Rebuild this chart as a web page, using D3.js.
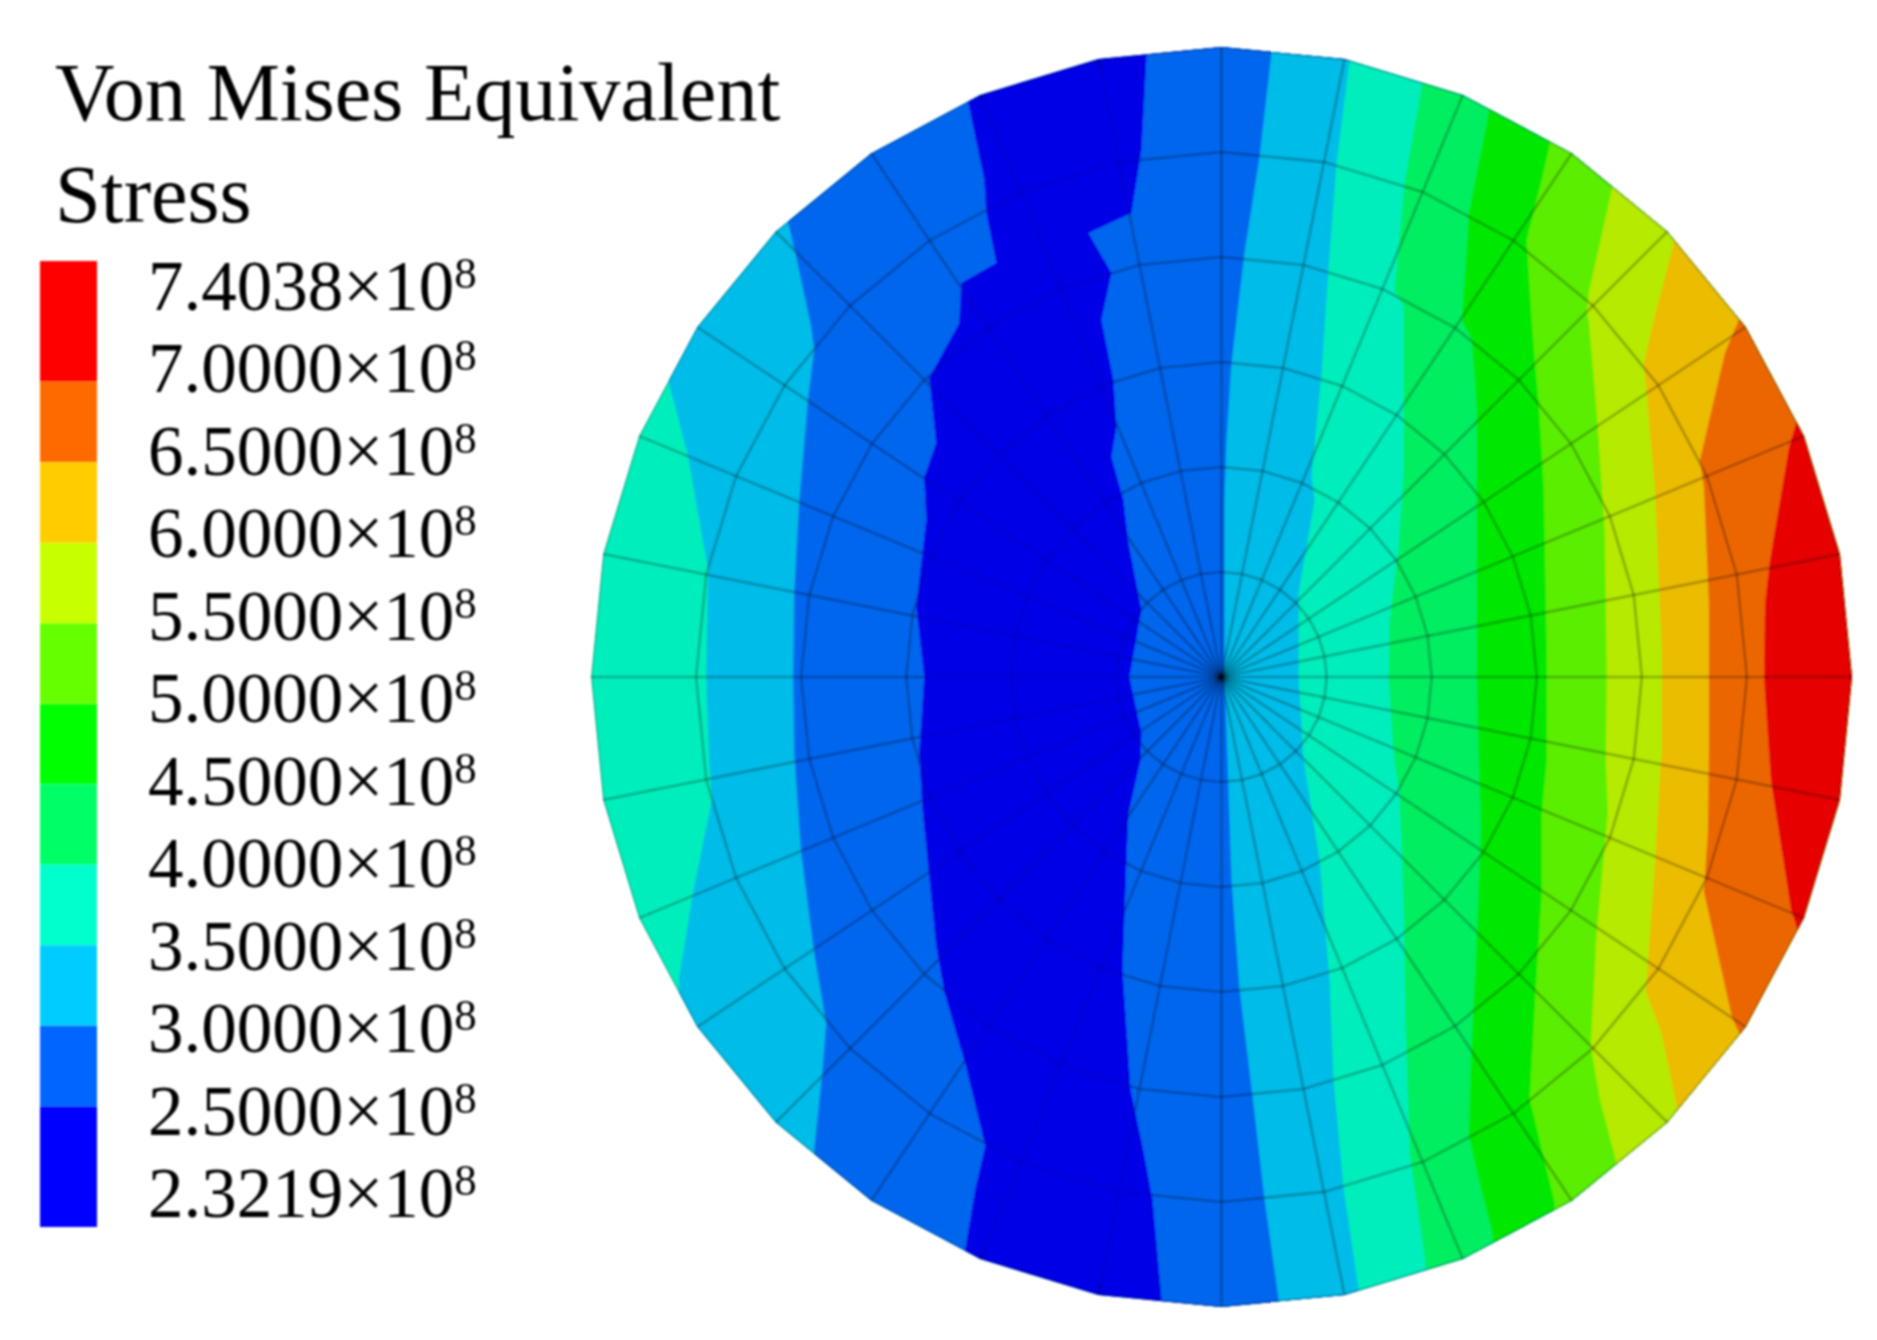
<!DOCTYPE html>
<html>
<head>
<meta charset="utf-8">
<script src="https://cdn.jsdelivr.net/npm/d3@7"></script>
<style>
  html, body { margin: 0; padding: 0; background: #fff; }
  svg { display: block; }
  text { font-family: "Liberation Serif", serif; fill: #000; }
</style>
</head>
<body>
<div id="chart"></div>
<script>
'use strict';

var titleLines = ['Von Mises Equivalent', 'Stress']

// Legend, top to bottom
var legendMantissas = ['7.4038', '7.0000', '6.5000', '6.0000', '5.5000', '5.0000', '4.5000', '4.0000', '3.5000', '3.0000', '2.5000', '2.3219']
var legendExponent = '8'
var legendColors = ['#ff0000', '#ff6a00', '#ffcc00', '#c8ff00', '#66ff00', '#00ff00', '#00ff66', '#00ffcc', '#00ccff', '#0066ff', '#0000ff']
var legendEdges = [0, 1.5, 2.5, 3.5, 4.5, 5.5, 6.5, 7.5, 8.5, 9.5, 10.5, 12]

// Mesh: rings and spokes of the disc, in mesh units from the centre
var ringRadii = [105, 210, 315, 420, 525, 630]
var spokeCount = 32

// Contour bands of the disc, left to right
var bandColors = ['#00eebb', '#00bce8', '#0066ee', '#0000e6', '#0066ee', '#00bce8', '#00eebb', '#00ee60', '#00e800', '#5cee00', '#b6ea00', '#ecbc00', '#ec6600', '#e60000']

// Contour lines between two neighbouring bands, [u, v] from top to bottom
var contourCyanLeft = [[-552, -294], [-533, -220], [-513, -107], [-515, 0], [-512, 83], [-509, 122], [-528, 215], [-542, 301]]
var contourBlueLeft = [[-433, -454], [-425, -420], [-410, -350], [-407, -327], [-413, -280], [-422, -175], [-427, -84], [-428, 0], [-427, 76], [-420, 176], [-407, 276], [-395, 347], [-399, 397], [-407, 472]]
var contourDarkLeft = [[-253, -574], [-237, -497], [-235, -464], [-225, -414], [-260, -394], [-262, -354], [-292, -299], [-285, -234], [-297, -200], [-295, -157], [-305, -70], [-297, 0], [-302, 76], [-299, 129], [-293, 190], [-285, 269], [-277, 315], [-256, 387], [-236, 469], [-246, 512], [-256, 572]]
var contourDarkRight = [[-75, -620], [-80, -527], [-90, -464], [-133, -444], [-110, -404], [-120, -357], [-108, -297], [-105, -250], [-110, -220], [-98, -177], [-93, -134], [-80, -67], [-92, 0], [-80, 56], [-81, 83], [-93, 137], [-95, 183], [-99, 294], [-95, 351], [-91, 412], [-79, 469], [-69, 522], [-60, 622]]
var contourCyanMid = [[50, -624], [38, -520], [23, -424], [10, -314], [5, -237], [3, -177], [3, 0], [6, 83], [10, 204], [18, 312], [31, 419], [43, 522], [57, 622]]
var contourTealMid = [[128, -617], [115, -514], [107, -410], [100, -304], [90, -200], [93, -177], [77, -84], [77, 0], [82, 83], [98, 183], [108, 304], [112, 404], [122, 512], [137, 612]]
var contourSpring = [[200, -590], [183, -494], [173, -387], [182, -370], [182, -304], [182, -204], [177, -130], [168, -57], [167, 0], [172, 76], [178, 119], [182, 226], [184, 351], [188, 476], [204, 587]]
var contourGreen = [[267, -565], [247, -464], [245, -430], [240, -357], [250, -337], [255, -270], [255, -200], [255, 0], [257, 83], [259, 154], [255, 262], [249, 387], [247, 458], [255, 494], [271, 558]]
var contourLime = [[328, -532], [320, -497], [305, -437], [310, -357], [313, -317], [317, -274], [322, -190], [325, -24], [325, 83], [320, 137], [320, 215], [314, 312], [308, 422], [333, 526]]
var contourYellow = [[390, -487], [367, -384], [365, -364], [367, -357], [375, -264], [383, -144], [385, 0], [384, 83], [386, 137], [375, 254], [369, 369], [378, 422], [394, 483]]
var contourAmber = [[452, -434], [432, -357], [422, -314], [427, -257], [433, -190], [440, -24], [440, 76], [439, 83], [433, 190], [424, 315], [439, 354], [455, 429]]
var contourOrange = [[518, -360], [503, -324], [478, -217], [482, -190], [487, -74], [487, 0], [487, 76], [486, 154], [482, 215], [510, 340], [518, 358]]
var contourRed = [[575, -257], [567, -230], [548, -117], [543, -74], [542, 0], [547, 76], [549, 104], [569, 233], [576, 254]]

var contours = [contourCyanLeft, contourBlueLeft, contourDarkLeft, contourDarkRight, contourCyanMid, contourTealMid, contourSpring, contourGreen, contourLime, contourYellow, contourAmber, contourOrange, contourRed]

var width = 1877
var height = 1340

var x = d3.scaleLinear().domain([-630, 630]).range([591, 1852])
var y = d3.scaleLinear().domain([-630, 630]).range([47, 1307])

var legendY = d3.scaleLinear().domain([0, 12]).range([261, 1227])
var legendLabelY = d3.scalePoint().domain(legendMantissas).range([310, 1217])

var svg = d3.select('#chart').append('svg')
  .attr('width', width)
  .attr('height', height)

// The reference is a soft, upscaled raster
var defs = svg.append('defs')
defs.append('filter').attr('id', 'soft')
  .append('feGaussianBlur').attr('stdDeviation', 1.1)

var g = svg.append('g').attr('filter', 'url(#soft)')

var line = d3.line()
  .x(function(d) { return x(d[0]) })
  .y(function(d) { return y(d[1]) })

function ringPoints(r) {
  return d3.range(spokeCount).map(function(i) {
    var a = i * 2 * Math.PI / spokeCount
    return [r * Math.cos(a), r * Math.sin(a)]
  })
}

var outer = ringPoints(d3.max(ringRadii))

defs.append('clipPath').attr('id', 'disc')
  .append('path').attr('d', line(outer) + 'Z')

var disc = g.append('g').attr('clip-path', 'url(#disc)')

disc.append('path')
  .attr('d', line(outer) + 'Z')
  .style('fill', bandColors[0])

// Every contour paints the next band over everything on its right
disc.selectAll('.band')
  .data(contours)
  .enter().append('path')
    .attr('class', 'band')
    .attr('d', function(c) {
      var first = c[0]
      var last = c[c.length - 1]
      return line([[first[0], -900]].concat(c, [[last[0], 900], [900, 900], [900, -900]])) + 'Z'
    })
    .style('fill', function(c, i) { return bandColors[i + 1] })

// Mesh
var mesh = disc.append('g')
  .style('fill', 'none')
  .style('stroke', '#000')
  .style('stroke-opacity', 0.26)
  .style('stroke-width', 2.6)

mesh.selectAll('.ring')
  .data(ringRadii)
  .enter().append('path')
    .attr('class', 'ring')
    .attr('d', function(r) { return line(ringPoints(r)) + 'Z' })

mesh.selectAll('.spoke')
  .data(outer)
  .enter().append('path')
    .attr('class', 'spoke')
    .attr('d', function(p) { return line([[0, 0], p]) })

// The mesh hardly shows through the darkest band
disc.append('path')
  .attr('d', line(contourDarkLeft.concat(contourDarkRight.slice().reverse())) + 'Z')
  .style('fill', bandColors[3])
  .style('fill-opacity', 0.7)

// Title
g.selectAll('.title')
  .data(titleLines)
  .enter().append('text')
    .attr('class', 'title')
    .attr('x', 55)
    .attr('y', function(d, i) { return 120 + i * 102 })
    .style('font-size', '82.3px')
    .text(function(d) { return d })

// Legend
g.selectAll('.swatch')
  .data(legendColors)
  .enter().append('rect')
    .attr('class', 'swatch')
    .attr('x', 40)
    .attr('width', 57)
    .attr('y', function(d, i) { return legendY(legendEdges[i]) })
    .attr('height', function(d, i) { return legendY(legendEdges[i + 1]) - legendY(legendEdges[i]) })
    .style('fill', function(d) { return d })

var label = g.selectAll('.label')
  .data(legendMantissas)
  .enter().append('text')
    .attr('class', 'label')
    .attr('x', 148)
    .attr('y', function(d) { return legendLabelY(d) })
    .style('font-size', '71px')

label.append('tspan')
  .text(function(d) { return d + '\u00d710' })

label.append('tspan')
  .attr('dy', -22)
  .style('font-size', '45px')
  .text(legendExponent)
</script>
</body>
</html>
